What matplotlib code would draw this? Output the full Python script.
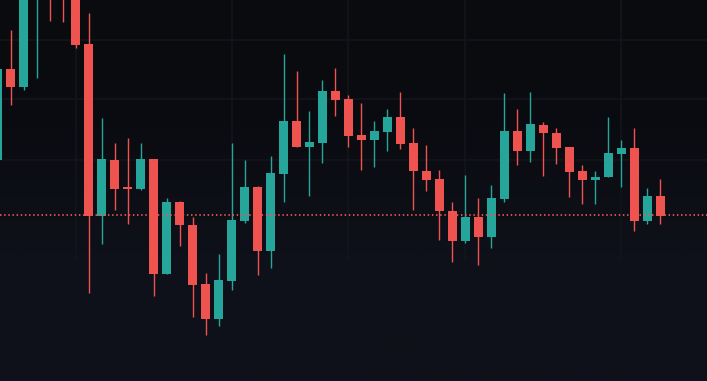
import matplotlib
matplotlib.use('Agg')
import matplotlib.pyplot as plt
from matplotlib.colors import LinearSegmentedColormap
import numpy as np

# OHLC values (arbitrary price units)
opens = [24.0, 33.1, 31.3, 42.0, 46.0, 42.0, 40.5, 35.6, 18.4, 24.0,
         21.25, 21.1, 24.1, 12.6, 19.8, 17.5, 11.6, 8.1, 11.9, 17.9,
         21.3, 14.9, 22.6, 27.9, 25.3, 25.7, 30.9, 30.1, 26.5, 26.0,
         26.8, 28.3, 25.7, 22.9, 22.1, 18.9, 15.9, 18.3, 16.3, 20.1,
         26.9, 24.9, 27.5, 26.7, 25.3, 22.9, 22.0, 22.3, 24.6, 25.2,
         17.9, 20.4]
highs = [34.0, 37.0, 44.0, 47.0, 47.5, 43.0, 41.5, 38.7, 28.2, 25.7,
         26.2, 25.7, 24.1, 20.2, 19.9, 18.3, 12.7, 14.6, 25.7, 24.0,
         21.4, 24.4, 34.6, 32.9, 28.9, 32.0, 33.2, 30.5, 29.7, 27.9,
         29.1, 30.8, 27.2, 25.5, 23.0, 19.8, 22.5, 20.2, 21.5, 30.7,
         29.1, 30.8, 27.8, 27.2, 25.3, 23.5, 22.9, 28.3, 26.0, 27.2,
         21.2, 22.1]
lows = [23.5, 29.5, 31.0, 32.2, 37.9, 37.8, 35.2, 10.7, 15.6, 19.0,
        17.6, 21.0, 10.4, 12.6, 15.4, 8.3, 6.5, 7.4, 11.0, 17.7,
        12.5, 13.2, 19.8, 25.3, 20.4, 23.7, 28.4, 25.3, 23.0, 23.3,
        24.9, 25.1, 19.0, 20.9, 16.0, 13.8, 15.7, 13.5, 15.2, 19.8,
        23.5, 23.8, 22.4, 23.6, 20.3, 19.6, 19.6, 22.3, 21.3, 16.9,
        17.6, 17.6]
closes = [33.1, 31.3, 43.0, 46.0, 41.0, 40.5, 35.5, 18.4, 24.1, 21.1,
          21.15, 24.1, 12.6, 19.8, 17.5, 11.5, 8.1, 12.0, 18.0, 21.3,
          14.9, 22.7, 27.9, 25.3, 25.8, 30.9, 30.0, 26.4, 26.0, 26.9,
          28.3, 25.6, 22.9, 22.0, 18.9, 15.9, 18.3, 16.3, 20.2, 26.9,
          24.9, 27.6, 26.7, 25.2, 22.8, 22.0, 22.3, 24.7, 25.2, 17.9,
          20.4, 18.4]
last_price = 18.5
grid_x = [6, 18, 27, 36, 48]
grid_y = [36.0, 30.1, 24.0]

up_color = '#26a69a'
down_color = '#ef5350'

o = np.array(opens)
h = np.array(highs)
l = np.array(lows)
c = np.array(closes)
x = np.arange(len(o))
colors = [up_color if cc >= oo else down_color for oo, cc in zip(o, c)]

fig = plt.figure(figsize=(7.07, 3.81), dpi=100)
ax = fig.add_axes([0, 0, 1, 1])
xmin, xmax = 0.19, 54.58
ymin, ymax = 1.9, 40.0
ax.set_xlim(xmin, xmax)
ax.set_ylim(ymin, ymax)
ax.axis('off')

# background gradient, darker at the top
bg = LinearSegmentedColormap.from_list('bg', ['#0f111a', '#0f111a', '#0b0c11', '#0a0b0e'])
grad = np.linspace(0, 1, 256).reshape(-1, 1)
ax.imshow(grad, cmap=bg, origin='lower', aspect='auto',
          extent=[xmin, xmax, ymin, ymax], zorder=0)

# faint grid
for gx in grid_x:
    ax.vlines(gx, 14, ymax, color='#13151c', lw=1.2, zorder=1)
for gy in grid_y:
    ax.axhline(gy, color='#13151c', lw=1.2, zorder=1)

# wicks and bodies
ax.vlines(x, l, h, colors=colors, lw=1.0, zorder=2)
bottoms = np.minimum(o, c)
heights = np.maximum(np.abs(c - o), 0.12)
ax.bar(x, heights, bottom=bottoms, width=0.69, color=colors, linewidth=0, zorder=3)

# last price line
ax.axhline(last_price, color=down_color, lw=1.3, linestyle=(0, (0.8, 1.5)), zorder=4)

fig.savefig('out.png', dpi=100, facecolor='#0f111a')
